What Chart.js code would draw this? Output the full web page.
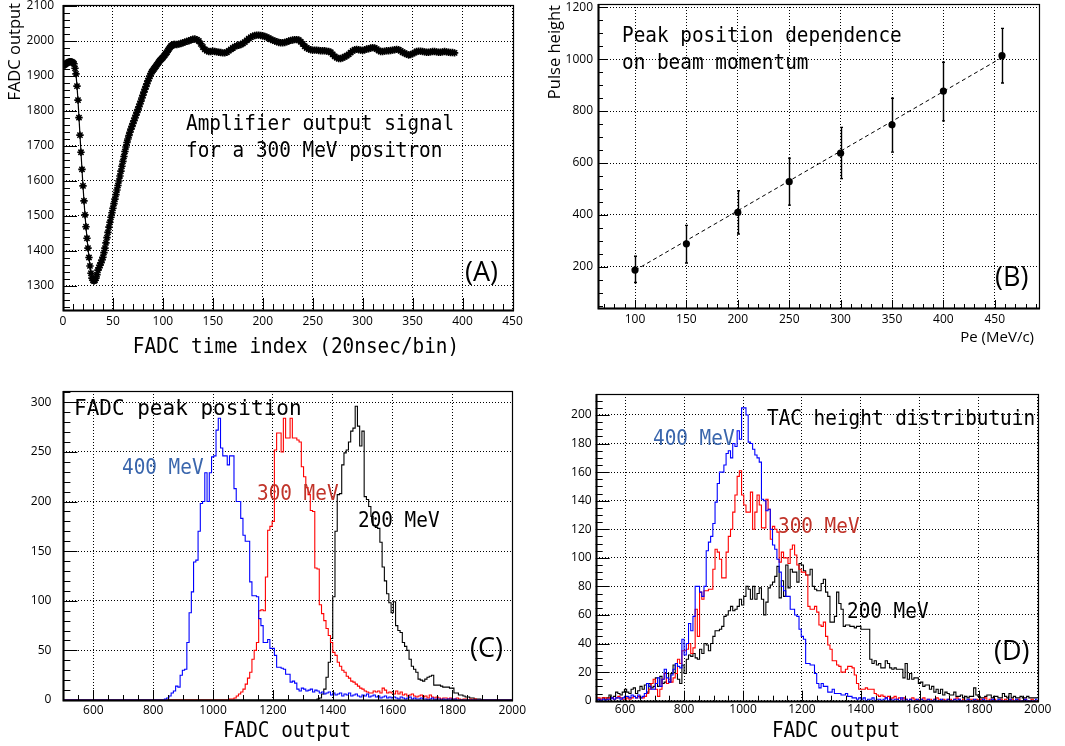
<!DOCTYPE html>
<html><head><meta charset="utf-8">
<script src="https://cdn.jsdelivr.net/npm/chart.js@4.4.1/dist/chart.umd.min.js"></script>
<style>
html,body{margin:0;padding:0;background:#fff;}
#wrap{position:relative;width:1065px;height:746px;overflow:hidden;background:#fff;}
#wrap canvas{position:absolute;left:0;top:0;}
</style></head><body>
<div id="wrap">
<canvas id="cA" width="1065" height="746"></canvas>
<canvas id="cB" width="1065" height="746"></canvas>
<canvas id="cC" width="1065" height="746"></canvas>
<canvas id="cD" width="1065" height="746"></canvas>
</div>
<script>
// ---------------- Panel A: amplifier output signal ----------------
const aTime = [0,1,2,3,4,5,6,7,8,9,10,11,12,13,14,15,16,17,18,19,20,21,22,23,24,25,26,27,28,29,30,31,32,33,34,35,
36,37,38,39,40,41,42,43,44,45,46,47,48,49,50,51,52,53,54,55,56,57,58,59,60,61,62,63,64,65,66,67,68,69,70,71,72,73,74,75,76,77,78,79,80,81,82,83,84,85,86,87,88,89,90,91,92,93,94,95,96,97,98,99,100,101,102,103,104,105,106,107,108,109,110,111,112,
114,116,118,120,122,124,126,128,130,132,134,136,138,140,142,144,146,148,150,152,154,156,158,160,162,164,166,168,170,172,174,176,178,180,182,184,186,188,190,192,194,196,198,200,202,204,206,208,210,212,214,216,218,220,222,224,226,228,230,232,234,236,238,240,242,244,246,248,250,252,254,256,258,260,262,264,266,268,270,272,274,276,278,280,282,284,286,288,290,292,294,296,298,300,302,304,306,308,310,312,314,316,318,320,322,324,326,328,330,332,334,336,338,340,342,344,346,348,350,352,354,356,358,360,362,364,366,368,370,372,374,376,378,380,382,384,386,388,390,392];
const aSignal = [1929,1931,1933,1935,1937,1939,1940,1941,1941,1940,1938,1935,1922,1906,1871,1831,1781,1731,1682,1633,1586,1543,1503,1469,1436,1408,1381,1357,1336,1322,1316,1314,1316,1322,1332,1345,
1352,1359,1366,1374,1382,1395,1408,1423,1438,1453,1468,1482,1496,1509,1522,1535,1548,1561,1574,1587,
1600,1614,1628,1642,1656,1670,1684,1697,1710,1720,1730,1739,1748,1756,1764,1772,1780,1788,1796,1804,
1812,1820,1828,1837,1845,1854,1862,1870,1878,1886,1893,1900,1907,1912,1916,1920,1924,1928,1932,1936,
1940,1944,1947,1950,1953,1957,1960,1964,1968,1973,1977,1981,1985,1987,1989,1990,1990,
1990,1991,1993,1995,1997,1999,2001,2003,2005,2006,2004,
2000,1992,1983,1976,1972,1970,1970,1971,1970,1969,
1968,1967,1966,1966,1968,1972,1976,1980,1984,1987,
1988,1990,1993,1997,2002,2007,2011,2014,2016,2017,
2017,2016,2015,2013,2011,2008,2005,2002,2000,1998,
1996,1995,1995,1996,1998,2000,2002,2003,2004,2004,
2003,1998,1992,1985,1980,1977,1975,1974,1974,1974,
1973,1972,1972,1972,1971,1970,1968,1962,1956,1952,
1950,1950,1952,1955,1958,1962,1967,1972,1975,1976,
1975,1974,1973,1975,1977,1978,1980,1981,1980,1977,
1973,1970,1970,1971,1972,1972,1973,1974,1975,1976,
1975,1972,1968,1965,1962,1960,1961,1964,1967,1970,
1971,1971,1970,1969,1968,1968,1969,1970,1970,1969,
1968,1968,1969,1970,1969,1968,1967,1967,1966];
const aXTicks = [0,50,100,150,200,250,300,350,400,450];
const aYTicks = [1300,1400,1500,1600,1700,1800,1900,2000,2100];

// ---------------- Panel B: peak position vs momentum ----------------
const bMomentum = [100,150,200,250,300,350,400,457];
const bPeak     = [188,289,410,528,638,747,877,1013];
const bErrLow   = [140,215,327,438,540,642,762,908];
const bErrHigh  = [241,360,493,619,737,849,988,1118];
const bFitX = [100,457];
const bFitY = [187,1006];
const bXTicks = [100,150,200,250,300,350,400,450];
const bYTicks = [200,400,600,800,1000,1200];

// ---------------- Histograms (200 bins, 500-2000) ----------------
const histMin = 500, histBinWidth = 7.5;
const histXTicks = [600,800,1000,1200,1400,1600,1800,2000];
const cYTicks = [0,50,100,150,200,250,300];
const dYTicks = [0,20,40,60,80,100,120,140,160,180,200];

// Panel C: FADC peak position
const c400 = [0,0,0,0,0,0,0,0,0,0, 0,0,0,0,0,0,0,0,0,0, 0,0,0,0,0,0,0,0,0,0, 0,0,0,0,0,0,0,0,0,0,
0,0,0,0,0,1,2,4,7,9, 14,13,25,30,31,58,88,109,139,141, 170,198,200,229,200,229,245,246,272,284,
254,246,246,237,246,246,213,200,200,183, 166,160,160,119,105,105,104,82,75,58, 58,61,52,52,45,33,33,32,31,26,
26,18,19,17,11,9,12,11,9,10, 11,8,10,9,7,8,6,7,8,5, 7,5,6,7,4,6,5,7,4,5, 6,4,3,5,4,6,3,4,5,3,
4,2,3,4,2,3,2,3,2,1, 3,2,1,2,3,1,2,1,1,2, 1,1,0,1,2,0,1,1,0,1, 0,1,1,0,1,0,0,0,0,0,
0,0,0,0,0,0,0,0,0,0, 0,0,0,0,0,0,0,0,0,0];
const c300 = [0,0,0,0,0,0,0,0,0,0, 0,0,0,0,0,0,0,0,0,0, 0,0,0,0,0,0,0,0,0,0, 0,0,0,0,0,0,0,0,0,0,
0,0,0,0,0,0,0,0,0,0, 0,0,0,0,0,0,0,0,0,0, 0,0,0,0,0,0,0,0,0,0, 0,0,0,0,1,1,2,4,6,8,
11,16,22,28,41,50,58,90,91,90, 124,171,175,180,252,269,269,250,284,264, 264,284,264,264,262,260,235,225,214,207,
191,190,133,132,96,87,80,72,65,58, 48,45,38,34,30,28,24,22,19,18, 16,14,12,11,9,8,7,7,9,8,
9,7,12,10,7,8,7,6,9,6, 8,5,6,4,5,6,4,3,4,5, 3,4,2,5,3,2,3,2,1,2, 2,1,2,1,1,2,1,0,1,1,
0,1,0,1,0,0,0,0,0,0, 0,0,0,0,0,0,0,0,0,0];
const c200 = [0,0,0,0,0,0,0,0,0,0, 0,0,0,0,0,0,0,0,0,0, 0,0,0,0,0,0,0,0,0,0, 0,0,0,0,0,0,0,0,0,0,
0,0,0,0,0,0,0,0,0,0, 0,0,0,0,0,0,0,0,0,0, 0,0,0,0,0,0,0,0,0,0, 0,0,0,0,0,0,0,0,0,0,
0,0,0,0,0,0,0,0,0,0, 0,0,0,0,0,0,0,0,0,0, 0,0,0,0,0,0,0,0,0,0, 0,0,0,1,2,6,11,23,38,62,
104,170,207,208,237,249,252,260,271,274, 296,276,256,271,205,202,195,185,176,174, 173,159,134,120,107,98,88,99,75,70,
68,58,54,50,41,34,31,28,21,20, 19,21,23,24,25,15,15,15,14,13, 13,13,12,12,7,7,5,5,4,3,
3,2,2,1,1,1,0,0,0,0, 0,0,0,0,0,0,0,0,0,0];

// Panel D: TAC height distribution
const d400 = [0,1,0,1,0,1,1,2,1,2, 2,1,2,3,3,2,4,3,2,4, 2,3,5,12,10,8,8,12,16,10, 15,22,16,13,18,22,26,24,23,43,
32,40,54,49,59,80,80,76,73,80, 105,111,115,124,139,152,160,160,165,173, 175,170,180,178,189,183,205,205,200,181,
180,176,172,170,167,141,140,133,134,120, 109,106,99,90,80,77,73,73,64,64, 60,59,50,45,43,26,26,25,25,19,
12,9,12,10,10,6,6,8,5,5, 5,4,4,5,3,3,2,2,1,2, 1,2,0,1,1,2,0,1,1,0, 1,2,0,1,0,1,1,0,2,0,
1,0,1,0,0,1,0,1,0,0, 1,0,0,1,0,0,1,0,0,1, 0,0,1,0,1,0,0,0,1,0, 0,1,0,0,0,1,0,0,0,1,
0,0,1,0,0,0,0,1,0,0, 1,0,0,0,1,0,0,0,0,1];
const d300 = [2,2,1,2,2,1,2,2,1,2, 3,2,1,1,2,1,2,3,2,3, 2,2,3,5,8,12,15,8,3,8, 15,19,12,15,13,16,19,29,26,35,
35,36,40,33,37,64,45,76,71,77, 77,78,78,92,106,104,99,86,86,104, 115,120,132,144,157,161,144,137,132,132,
146,120,132,144,137,121,121,141,134,113, 122,120,118,97,104,100,100,96,106,109, 102,95,92,90,90,88,66,64,64,66,
62,53,52,55,45,39,36,28,28,25, 24,20,20,22,24,24,23,18,12,8, 8,8,9,8,8,8,5,4,3,4, 3,2,3,1,2,3,1,2,1,2,
1,0,1,2,1,0,1,1,2,0, 1,1,0,1,2,1,0,1,0,1, 1,0,1,2,1,0,1,0,0,1, 1,0,1,0,1,0,2,0,1,0,
1,0,0,1,0,1,0,0,1,0, 0,1,0,0,1,0,0,1,0,0];
const d200 = [0,1,0,2,1,2,4,2,3,6, 5,4,6,8,6,5,8,9,5,7, 10,8,11,6,12,9,10,16,10,17, 12,13,19,13,19,25,19,15,12,25,
19,29,32,31,33,30,29,36,33,40, 39,35,40,45,49,49,50,52,59,60, 63,66,63,64,66,71,67,73,80,78,
71,80,71,75,79,71,60,69,79,81, 83,87,94,72,84,73,95,79,92,90, 90,83,96,95,91,88,88,92,80,78,
77,77,82,85,76,73,55,55,59,76, 68,64,52,53,53,52,52,51,52,52, 50,50,50,50,29,26,28,25,26,23, 23,28,26,23,22,23,22,22,22,16,
26,15,19,15,16,16,12,13,10,11, 11,8,10,6,8,5,8,4,6,5, 4,4,6,3,3,4,2,3,2,3, 3,9,4,3,2,2,3,4,4,2,
3,3,2,2,5,3,2,5,2,3, 2,2,3,2,2,3,2,2,2,2];

// ---------------- rendering ----------------
const W = 1065, H = 746;
const SANS = "'Open Sans', 'DejaVu Sans', sans-serif";
const MONO = "'DejaVu Sans Mono', 'Liberation Mono', monospace";
const TICK_FONT = {family: SANS, size: 12};
const BLUE_TXT = '#3a66ad', RED_TXT = '#c1342a';

function mono(text, x, y, opt) {
  return Object.assign({text, x, y, font: '22px ' + MONO, sx: 0.88, align: 'left', color: '#000'}, opt || {});
}
function sans(text, x, y, size, opt) {
  return Object.assign({text, x, y, font: size + 'px ' + SANS, sx: 1, align: 'left', color: '#000'}, opt || {});
}

const CFG = {
  cA: {
    area: {l: 63, t: 5, r: 512.5, b: 310},
    x: {min: 0, max: 450, ticks: aXTicks, pad: 4, minor: 10, maj: 12, min_: 6},
    y: {min: 1231, max: 2103, ticks: aYTicks, pad: 9, minor: 20, maj: 14, min_: 7},
    texts: [
      sans('FADC output', 20, 3, 16.5, {rotate: -Math.PI / 2, align: 'right'}),
      mono('FADC time index (20nsec/bin)', 296, 353, {align: 'center'}),
      mono('Amplifier output signal', 186, 130),
      mono('for a 300 MeV positron', 186, 157),
      sans('(A)', 465, 281, 27)
    ]
  },
  cB: {
    area: {l: 598, t: 4, r: 1039, b: 308},
    x: {min: 64, max: 493, ticks: bXTicks, pad: 4, minor: 10, maj: 8, min_: 4},
    y: {min: 42, max: 1212, ticks: bYTicks, pad: 5, minor: 50, maj: 10, min_: 5},
    texts: [
      sans('Pulse height', 560, 5, 16.5, {rotate: -Math.PI / 2, align: 'right'}),
      sans('Pe (MeV/c)', 1034, 342, 15, {align: 'right'}),
      mono('Peak position dependence', 622, 42),
      mono('on beam momentum', 622, 69),
      sans('(B)', 995, 286, 27)
    ],
    errorBars: true
  },
  cC: {
    area: {l: 63.4, t: 391, r: 512.3, b: 700},
    x: {min: 500, max: 2000, ticks: histXTicks, pad: 3, minor: 50, maj: 10, min_: 5},
    y: {min: 0, max: 311.4, ticks: cYTicks, pad: 12, minor: 10, maj: 14, min_: 7},
    texts: [
      mono('FADC peak position', 74, 415, {font: '21px ' + MONO, sx: 1.0}),
      mono('400 MeV', 122, 474, {color: BLUE_TXT}),
      mono('300 MeV', 257, 500, {color: RED_TXT}),
      mono('200 MeV', 358, 527),
      sans('(C)', 470, 657, 27),
      mono('FADC output', 287, 737, {align: 'center'})
    ]
  },
  cD: {
    area: {l: 595.7, t: 394, r: 1037.7, b: 700.7},
    x: {min: 500, max: 2000, ticks: histXTicks, pad: 2, minor: 50, maj: 10, min_: 5},
    y: {min: 0, max: 214.7, ticks: dYTicks, pad: 4, minor: 5, maj: 14, min_: 7},
    texts: [
      mono('TAC height distributuin', 767, 425),
      mono('400 MeV', 653, 445, {color: BLUE_TXT}),
      mono('300 MeV', 778, 533, {color: RED_TXT}),
      mono('200 MeV', 847, 618),
      sans('(D)', 994, 660, 27),
      mono('FADC output', 836, 737, {align: 'center'})
    ]
  }
};

function drawText(ctx, t) {
  ctx.save();
  ctx.font = t.font;
  ctx.fillStyle = t.color;
  ctx.textBaseline = 'alphabetic';
  ctx.textAlign = t.align;
  ctx.translate(t.x, t.y);
  if (t.rotate) ctx.rotate(t.rotate);
  ctx.scale(t.sx, 1);
  ctx.fillText(t.text, 0, 0);
  ctx.restore();
}

const rootStyle = {
  id: 'rootStyle',
  afterDatasetsDraw(chart) {
    const o = CFG[chart.canvas.id];
    if (!o.errorBars) return;
    const ctx = chart.ctx, xs = chart.scales.x, ys = chart.scales.y;
    ctx.save();
    ctx.strokeStyle = '#000';
    ctx.lineWidth = 1.4;
    ctx.beginPath();
    bMomentum.forEach((m, i) => {
      const x = Math.round(xs.getPixelForValue(m)) + 0.5;
      const y1 = ys.getPixelForValue(bErrLow[i]);
      const y2 = ys.getPixelForValue(bErrHigh[i]);
      ctx.moveTo(x, y1); ctx.lineTo(x, y2);
      ctx.moveTo(x - 1.5, y1); ctx.lineTo(x + 1.5, y1);
      ctx.moveTo(x - 1.5, y2); ctx.lineTo(x + 1.5, y2);
    });
    ctx.stroke();
    ctx.restore();
  },
  afterDraw(chart) {
    const o = CFG[chart.canvas.id];
    const ctx = chart.ctx, a = chart.chartArea, xs = chart.scales.x, ys = chart.scales.y;
    ctx.save();
    ctx.strokeStyle = '#000';
    ctx.lineWidth = 1;
    ctx.beginPath();
    const ySet = new Set(o.y.ticks);
    for (let v = Math.ceil(o.y.min / o.y.minor) * o.y.minor; v <= o.y.max; v += o.y.minor) {
      const len = ySet.has(v) ? o.y.maj : o.y.min_;
      const py = Math.round(ys.getPixelForValue(v)) + 0.5;
      ctx.moveTo(a.left, py); ctx.lineTo(a.left + len, py);
    }
    const xSet = new Set(o.x.ticks);
    for (let v = Math.ceil(o.x.min / o.x.minor) * o.x.minor; v <= o.x.max; v += o.x.minor) {
      const len = xSet.has(v) ? o.x.maj : o.x.min_;
      const px = Math.round(xs.getPixelForValue(v)) + 0.5;
      ctx.moveTo(px, a.bottom); ctx.lineTo(px, a.bottom - len);
    }
    ctx.stroke();
    const L = Math.round(a.left), T = Math.round(a.top), R = Math.round(a.right), B = Math.round(a.bottom);
    ctx.lineWidth = 1.2;
    ctx.strokeRect(L + 0.5, T + 0.5, R - L, B - T);
    ctx.lineWidth = 2;
    ctx.beginPath();
    ctx.moveTo(L + 0.5, T); ctx.lineTo(L + 0.5, B + 0.5); ctx.lineTo(R + 1, B + 0.5);
    ctx.stroke();
    ctx.restore();
    o.texts.forEach(t => drawText(ctx, t));
  }
};

function axis(o, dir) {
  const s = o[dir];
  return {
    type: 'linear', position: dir === 'x' ? 'bottom' : 'left',
    min: s.min, max: s.max,
    afterBuildTicks: sc => { sc.ticks = s.ticks.map(v => ({value: v})); },
    afterFit: sc => {
      if (dir === 'x') sc.height = H - o.area.b; else sc.width = o.area.l;
      sc.paddingLeft = sc.paddingRight = sc.paddingTop = sc.paddingBottom = 0;
    },
    grid: {color: '#000', lineWidth: 1, drawTicks: false},
    border: {display: false, dash: [1, 2]},
    ticks: {color: '#000', font: TICK_FONT, padding: s.pad, maxRotation: 0, minRotation: 0, autoSkip: false,
            callback: v => String(v)}
  };
}

function options(id) {
  const o = CFG[id];
  return {
    responsive: false, animation: false, devicePixelRatio: 1, events: [],
    layout: {autoPadding: false, padding: {left: 0, top: o.area.t, right: W - o.area.r, bottom: 0}},
    plugins: {legend: {display: false}, tooltip: {enabled: false}, title: {display: false}},
    scales: {x: axis(o, 'x'), y: axis(o, 'y')}
  };
}

function histPoints(counts) {
  const pts = counts.map((c, i) => ({x: histMin + i * histBinWidth, y: c}));
  pts.push({x: histMin + counts.length * histBinWidth, y: counts[counts.length - 1]});
  return pts;
}
function histDataset(counts, color) {
  return {data: histPoints(counts), stepped: true, borderColor: color, borderWidth: 1.1,
          pointRadius: 0, fill: false, tension: 0};
}

Chart.register(rootStyle);

new Chart(document.getElementById('cA'), {
  type: 'line',
  data: {datasets: [{
    data: aTime.map((t, i) => ({x: t, y: aSignal[i]})),
    borderColor: '#000', borderWidth: 1.2, tension: 0, fill: false,
    pointStyle: 'star', pointRadius: 3.7, pointBorderWidth: 1.6,
    pointBorderColor: '#000', pointBackgroundColor: '#000'
  }]},
  options: options('cA')
});

new Chart(document.getElementById('cB'), {
  type: 'line',
  data: {datasets: [
    {data: bMomentum.map((m, i) => ({x: m, y: bPeak[i]})), showLine: false,
     pointStyle: 'circle', pointRadius: 3.6, pointBackgroundColor: '#000', pointBorderColor: '#000', pointBorderWidth: 0},
    {data: bFitX.map((m, i) => ({x: m, y: bFitY[i]})), borderColor: '#000', borderWidth: 1,
     borderDash: [4, 3], pointRadius: 0, fill: false, tension: 0}
  ]},
  options: options('cB')
});

new Chart(document.getElementById('cC'), {
  type: 'line',
  data: {datasets: [histDataset(c400, '#0000ff'), histDataset(c300, '#ff0000'), histDataset(c200, '#000000')]},
  options: options('cC')
});

new Chart(document.getElementById('cD'), {
  type: 'line',
  data: {datasets: [histDataset(d400, '#0000ff'), histDataset(d300, '#ff0000'), histDataset(d200, '#000000')]},
  options: options('cD')
});
</script>
</body></html>
